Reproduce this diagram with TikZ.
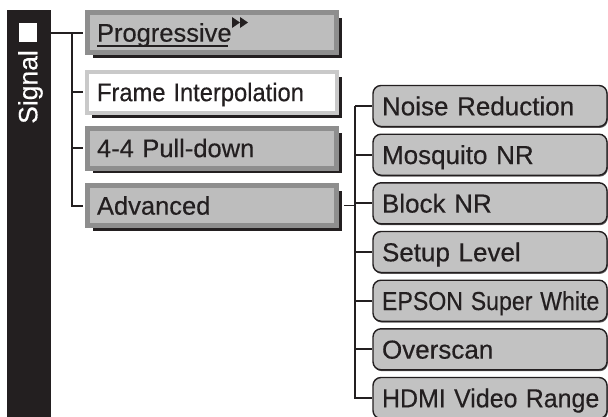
\documentclass[tikz,border=0pt]{standalone}
\usepackage{fontspec}
\setmainfont{Liberation Sans}[FakeBold=0.4]
\usetikzlibrary{shadows}
\definecolor{ink}{HTML}{231F20}
\definecolor{frameg}{HTML}{8E8E8E}
\definecolor{fillg}{HTML}{BDBDBD}
\definecolor{lightframe}{HTML}{C9C9C9}
\definecolor{subfill}{HTML}{C2C2C2}
\tikzset{
  lbox/.style={rectangle, draw=frameg, fill=fillg, line width=5pt,
    minimum height=40pt, inner xsep=9.5pt, inner ysep=0pt,
    text width=230pt, align=left, text=ink,
    text height=18.3pt, text depth=0pt,
    font=\fontsize{25.5}{30}\selectfont,
    drop shadow={shadow xshift=5pt, shadow yshift=-5pt, fill=ink, opacity=1}},
  wbox/.style={lbox, draw=lightframe, fill=white, line width=4pt,
    minimum height=41pt, inner xsep=10pt},
  rbox/.style={rectangle, draw=ink, fill=subfill, line width=1.4pt,
    rounded corners=8pt, minimum height=41pt, inner xsep=9pt, inner ysep=0pt,
    text width=216pt, align=left, text=ink,
    text height=18.6pt, text depth=0pt,
    font=\fontsize{26}{30}\selectfont,
    drop shadow={shadow xshift=0.8pt, shadow yshift=-1.4pt, fill=ink!75, opacity=1}},
  lconn/.style={draw=ink, line width=2pt},
  rconn/.style={draw=ink, line width=1.8pt}
}
\begin{document}
\begin{tikzpicture}[x=1pt,y=-1pt]
\useasboundingbox (0,0) rectangle (608,416);
\clip (0,0) rectangle (608,416);

% black side bar
\node[rectangle, fill=ink, inner sep=0pt, minimum width=44pt, minimum height=420pt,
      anchor=north west] (bar) at (7,10) {};
\node[rectangle, fill=white, inner sep=0pt, minimum width=18pt, minimum height=19pt] (sq) at (28,32.5) {};
\node[rotate=90, anchor=base, text=white, inner sep=0pt,
      font=\fontsize{26.5}{30}\selectfont] (sig) at (37.3,87) {Signal};

% left menu items
\node[lbox] (p) at (212,32.5) {Progressive};
\node[wbox] (fi) at (212,92) {\scalebox{0.93}[1]{Frame Interpolation}};
\node[lbox] (pd) at (212,148) {4-4 Pull-down};
\node[lbox] (adv) at (212,205.5) {Advanced};

% progressive underline and icon
\draw[ink, line width=1.7pt] (97,46) -- (228,46);
\fill[ink] (232,17) -- (240,22.5) -- (232,28) -- cycle
           (240,17) -- (248,22.5) -- (240,28) -- cycle;

% left connectors
\coordinate (lt) at (72,32.5);
\draw[lconn] (bar.east |- p.west) -- ([xshift=-2.5pt]p.west);
\draw[lconn] (lt) |- ([xshift=-2pt]fi.west);
\draw[lconn] (lt) |- ([xshift=-2.5pt]pd.west);
\draw[lconn] (lt) |- ([xshift=-2.5pt]adv.west);

% right submenu items
\node[rbox] (nr)  at (490,106)   {Noise Reduction};
\node[rbox] (mnr) at (490,154.7) {Mosquito NR};
\node[rbox] (bnr) at (490,203.3) {Block NR};
\node[rbox] (sl)  at (490,252)   {Setup Level};
\node[rbox] (esw) at (490,300.7) {\scalebox{0.89}[1]{EPSON Super White}};
\node[rbox] (ov)  at (490,349.3) {Overscan};
\node[rbox] (hv)  at (490,398)   {\scalebox{0.96}[1]{HDMI Video Range}};

% right connectors
\coordinate (rt) at (355,106);
\draw[rconn] ([xshift=5pt]adv.east) -- (rt |- adv.east);
\draw[rconn] (rt) |- (hv.west);
\foreach \n in {nr,mnr,bnr,sl,esw,ov}
  \draw[rconn] (rt |- \n.west) -- (\n.west);
\end{tikzpicture}
\end{document}
